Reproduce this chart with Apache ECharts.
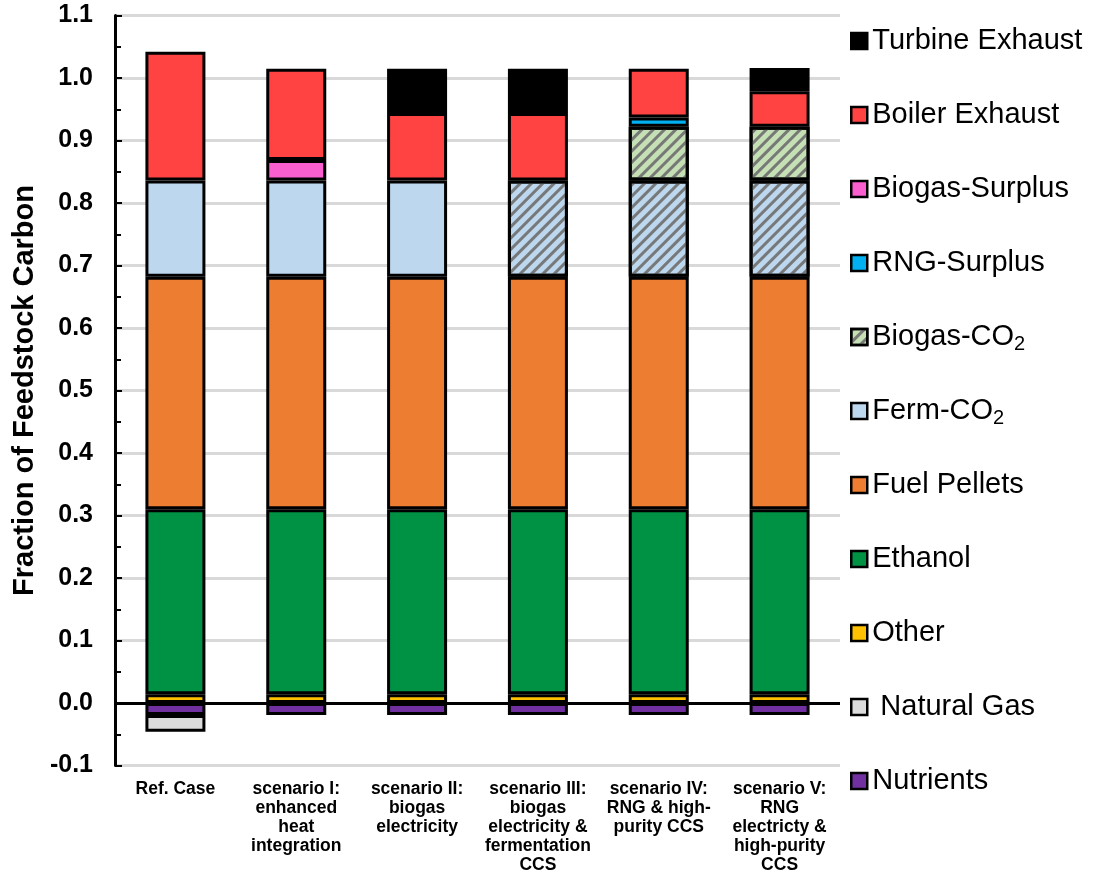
<!DOCTYPE html>
<html>
<head>
<meta charset="utf-8">
<script src="https://cdn.jsdelivr.net/npm/echarts@6/dist/echarts.min.js"></script>
<style>html,body{margin:0;padding:0;background:#fff;}#chart{width:1105px;height:890px;}</style>
</head>
<body>
<div id="chart"></div>
<script>
const categories = ['Ref. Case', 'scenario I:\nenhanced\nheat\nintegration', 'scenario II:\nbiogas\nelectricity', 'scenario III:\nbiogas\nelectricity &\nfermentation\nCCS', 'scenario IV:\nRNG & high-\npurity CCS', 'scenario V:\nRNG\nelectricty &\nhigh-purity\nCCS'];
const nutrients = [-0.019, -0.019, -0.019, -0.019, -0.019, -0.019];
const naturalGas = [-0.027, null, null, null, null, null];
const other = [0.014, 0.014, 0.014, 0.014, 0.014, 0.014];
const ethanol = [0.296, 0.296, 0.296, 0.296, 0.296, 0.296];
const fuelPellets = [0.372, 0.372, 0.372, 0.372, 0.372, 0.372];
const fermCO2 = [0.154, 0.154, 0.154, 0.154, 0.154, 0.154];
const fermCO2Captured = [false, false, false, true, true, true];
const biogasCO2 = [null, null, null, null, 0.086, 0.086];
const rngSurplus = [null, null, null, null, 0.015, null];
const biogasSurplus = [null, 0.033, null, null, null, null];
const boilerExhaust = [0.206, 0.146, 0.108, 0.108, 0.078, 0.057];
const turbineExhaust = [null, null, 0.071, 0.071, null, 0.037];
const yTicks = { min: -0.1, max: 1.1, interval: 0.1 };

const FONT = 'Liberation Sans, Arial, sans-serif';
const hatch = { symbol: 'rect', symbolSize: 1, dashArrayX: [1, 0], dashArrayY: [3, 5], rotation: -Math.PI / 4, color: 'rgba(110,110,110,0.9)' };

function mk(name, data, color, extra) {
  return Object.assign({
    name: name, type: 'bar', stack: 'total', barWidth: 60,
    data: data.map(v => v === null ? '-' : v),
    itemStyle: { color: color, borderColor: '#000', borderWidth: 3 }
  }, extra || {});
}

const series = [
  mk('Nutrients', nutrients, '#7030a0', {
    markLine: { silent: true, symbol: 'none', label: { show: false }, lineStyle: { color: '#000', width: 3, type: 'solid' }, data: [{ yAxis: 0 }], z: 10 }
  }),
  mk('Natural Gas', naturalGas, '#dcdcdc'),
  mk('Other', other, '#ffc000'),
  mk('Ethanol', ethanol, '#009244'),
  mk('Fuel Pellets', fuelPellets, '#ed7d31'),
  mk('Ferm-CO2', fermCO2, '#bdd7ee'),
  mk('Biogas-CO2', biogasCO2, '#c5e0b4'),
  mk('RNG-Surplus', rngSurplus, '#00b0f0'),
  mk('Biogas-Surplus', biogasSurplus, '#fa5fcf'),
  mk('Boiler Exhaust', boilerExhaust, '#ff4343'),
  mk('Turbine Exhaust', turbineExhaust, '#000000')
];
series[6].itemStyle.decal = hatch;
series[5].data = fermCO2.map((v, i) => fermCO2Captured[i] ? { value: v, itemStyle: { decal: hatch } } : v);

const chart = echarts.init(document.getElementById('chart'), null, { renderer: 'canvas' });
chart.setOption({
  animation: false,
  backgroundColor: '#fff',
  grid: { left: 115, right: 265, top: 15.5, bottom: 124.5, containLabel: false, outerBoundsMode: 'none' },
  legend: {
    orient: 'vertical', left: 845, top: 19,
    data: ['Turbine Exhaust', 'Boiler Exhaust', 'Biogas-Surplus', 'RNG-Surplus', 'Biogas-CO2', 'Ferm-CO2', 'Fuel Pellets', 'Ethanol', 'Other', 'Natural Gas', 'Nutrients'],
    itemWidth: 16, itemHeight: 16, itemGap: 40,
    icon: 'rect',
    itemStyle: { borderColor: '#000', borderWidth: 2.5 },
    textStyle: {
      fontFamily: FONT, fontSize: 29, color: '#000', lineHeight: 34,
      rich: {
        a: { fontFamily: FONT, fontSize: 29, color: '#000', lineHeight: 34 },
        s: { fontFamily: FONT, fontSize: 20, color: '#000', lineHeight: 34, verticalAlign: 'bottom', padding: [4, 0, 0, 0] }
      }
    },
    formatter: function (n) {
      if (n.endsWith('CO2')) return '{a|' + n.slice(0, -1) + '}{s|2}';
      if (n === 'Natural Gas') return '{a| Natural Gas}';
      return '{a|' + n + '}';
    }
  },
  xAxis: {
    type: 'category', data: categories,
    axisLine: { show: false }, axisTick: { show: false },
    axisLabel: {
      interval: 0, margin: 14, color: '#000', fontWeight: 'bold', fontSize: 17.5, lineHeight: 19,
      fontFamily: FONT
    }
  },
  yAxis: {
    type: 'value', min: yTicks.min, max: yTicks.max, interval: yTicks.interval,
    name: 'Fraction of Feedstock Carbon', nameLocation: 'middle', nameGap: 70, nameRotate: 90,
    nameTextStyle: { fontFamily: FONT, fontWeight: 'bold', fontSize: 29, color: '#000' },
    axisLine: { show: true, lineStyle: { color: '#000', width: 3 } },
    axisTick: { show: true, inside: true, length: 7, lineStyle: { color: '#000', width: 2 } },
    minorTick: { show: true, splitNumber: 2, length: 6, lineStyle: { color: '#000', width: 2 } },
    splitLine: { show: true, lineStyle: { color: '#d9d9d9', width: 3 } },
    axisLabel: {
      margin: 22, color: '#000', fontWeight: 'bold', fontSize: 25, fontFamily: FONT,
      formatter: v => v.toFixed(1)
    }
  },
  series: series
});
</script>
</body>
</html>
